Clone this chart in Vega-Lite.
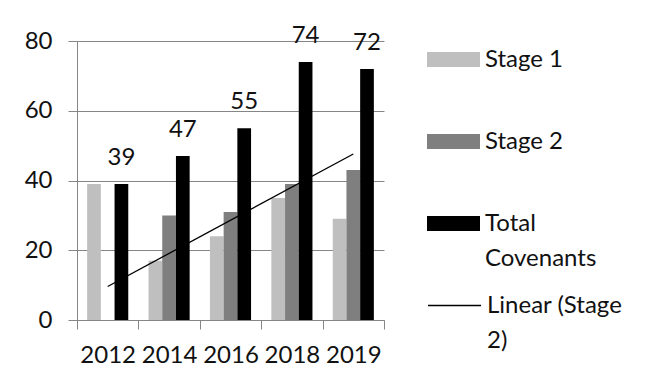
{
  "$schema": "https://vega.github.io/schema/vega-lite/v6.json",
  "width": 307,
  "height": 279,
  "autosize": {"type": "none"},
  "padding": {"left": 77, "top": 41, "right": 267, "bottom": 62},
  "background": "white",
  "datasets": {
    "bars": [
      {"year": "2012", "series": "Stage 1", "value": 39},
      {"year": "2012", "series": "Stage 2", "value": 0},
      {"year": "2012", "series": "Total Covenants", "value": 39},
      {"year": "2014", "series": "Stage 1", "value": 17},
      {"year": "2014", "series": "Stage 2", "value": 30},
      {"year": "2014", "series": "Total Covenants", "value": 47},
      {"year": "2016", "series": "Stage 1", "value": 24},
      {"year": "2016", "series": "Stage 2", "value": 31},
      {"year": "2016", "series": "Total Covenants", "value": 55},
      {"year": "2018", "series": "Stage 1", "value": 35},
      {"year": "2018", "series": "Stage 2", "value": 39},
      {"year": "2018", "series": "Total Covenants", "value": 74},
      {"year": "2019", "series": "Stage 1", "value": 29},
      {"year": "2019", "series": "Stage 2", "value": 43},
      {"year": "2019", "series": "Total Covenants", "value": 72}
    ],
    "trend": [
      {"year": "2012", "series": "Linear (Stage 2)", "value": 9.6},
      {"year": "2019", "series": "Linear (Stage 2)", "value": 47.6}
    ]
  },
  "config": {
    "view": {"stroke": null},
    "font": "Lato",
    "style": {"guide-label": {"lineHeight": 35}},
    "axis": {
      "labelFont": "Lato",
      "labelFontSize": 24,
      "labelColor": "#111111",
      "domainColor": "#868686",
      "tickColor": "#868686",
      "gridColor": "#868686",
      "domainWidth": 1,
      "tickWidth": 1,
      "gridWidth": 1,
      "title": null
    },
    "legend": {
      "labelFont": "Lato",
      "labelFontSize": 24,
      "labelColor": "#111111",
      "labelLimit": 300,
      "padding": 0,
      "title": null
    }
  },
  "encoding": {
    "x": {
      "field": "year",
      "type": "nominal",
      "scale": {"domain": ["2012", "2014", "2016", "2018", "2019"], "paddingInner": 0, "paddingOuter": 0},
      "axis": {"labelAngle": 0, "tickBand": "extent", "tickSize": 9, "labelPadding": 14, "grid": false}
    },
    "y": {
      "field": "value",
      "type": "quantitative",
      "scale": {"domain": [0, 80], "nice": false},
      "axis": {"values": [0, 20, 40, 60, 80], "tickSize": 9, "labelPadding": 16, "grid": true}
    }
  },
  "layer": [
    {
      "data": {"name": "bars"},
      "mark": {"type": "bar"},
      "encoding": {
        "xOffset": {
          "field": "series",
          "type": "nominal",
          "scale": {"domain": ["Stage 1", "Stage 2", "Total Covenants"], "paddingInner": 0, "paddingOuter": 0.74}
        },
        "color": {
          "field": "series",
          "type": "nominal",
          "scale": {"domain": ["Stage 1", "Stage 2", "Total Covenants"], "range": ["#bfbfbf", "#7f7f7f", "#000000"]},
          "legend": {
            "orient": "none",
            "legendX": 350,
            "legendY": -8,
            "symbolType": "M-1,-0.283H1V0.283H-1Z",
            "symbolSize": 2809,
            "symbolStrokeWidth": 0,
            "symbolOpacity": 1,
            "labelOffset": 5,
            "rowPadding": 8,
            "labelExpr": "datum.label == 'Total Covenants' ? ['Total', 'Covenants'] : [datum.label, ' ']"
          }
        }
      }
    },
    {
      "data": {"name": "bars"},
      "transform": [{"filter": "datum.series == 'Total Covenants'"}],
      "mark": {"type": "text", "dy": -19, "baseline": "alphabetic", "fontSize": 24, "font": "Lato", "color": "#111111"},
      "encoding": {
        "xOffset": {
          "field": "series",
          "type": "nominal",
          "scale": {"domain": ["Stage 1", "Stage 2", "Total Covenants"], "paddingInner": 0, "paddingOuter": 0.74}
        },
        "text": {"field": "value", "type": "quantitative"}
      }
    },
    {
      "data": {"name": "trend"},
      "mark": {"type": "line", "strokeWidth": 1.3},
      "encoding": {
        "stroke": {
          "field": "series",
          "type": "nominal",
          "scale": {"domain": ["Linear (Stage 2)"], "range": ["#000000"]},
          "legend": {
            "orient": "none",
            "legendX": 350,
            "legendY": 237,
            "symbolType": "stroke",
            "symbolSize": 2809,
            "symbolStrokeWidth": 1.3,
            "labelOffset": 5,
            "labelExpr": "['Linear (Stage', '2)']"
          }
        }
      }
    }
  ]
}
